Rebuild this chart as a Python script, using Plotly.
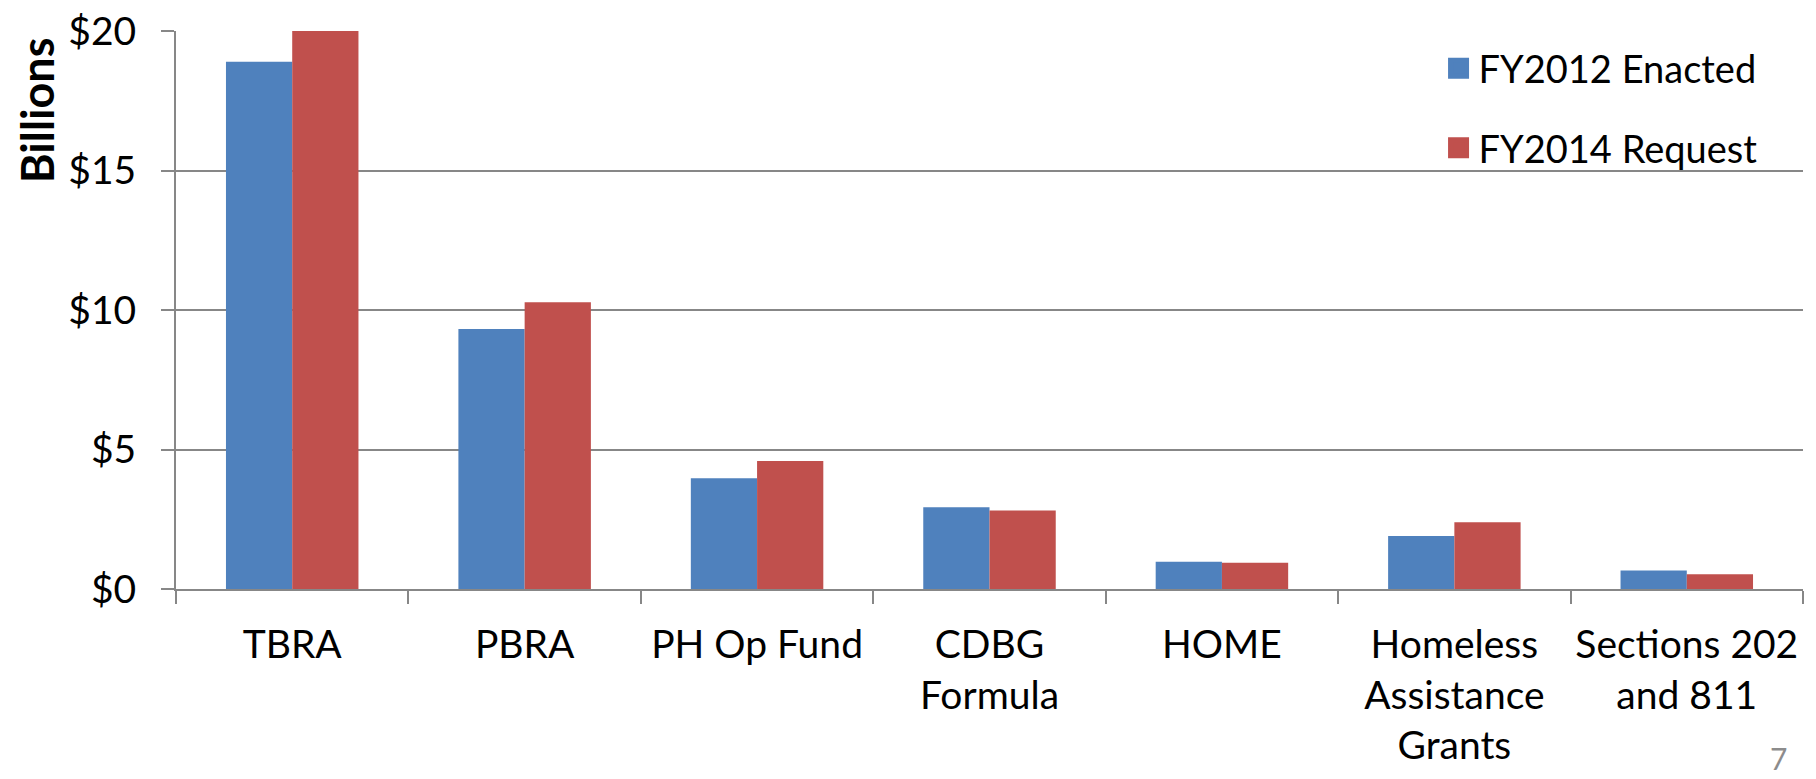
import plotly.graph_objects as go

categories = ["TBRA", "PBRA", "PH Op Fund", "CDBG<br>Formula", "HOME",
              "Homeless<br>Assistance<br>Grants", "Sections 202<br>and 811"]
fy2012_enacted = [18.9, 9.32, 3.97, 2.93, 0.98, 1.90, 0.66]
fy2014_request = [20.0, 10.28, 4.59, 2.81, 0.94, 2.39, 0.53]
series_names = ["FY2012 Enacted", "FY2014 Request"]
colors = ["#4F81BD", "#C0504D"]
y_ticks = [0, 5, 10, 15, 20]
y_tick_labels = ["$0", "$5", "$10", "$15", "$20"]

FONT = "Lato"
GRID = "#878787"

fig = go.Figure()
for name, vals, col in zip(series_names, [fy2012_enacted, fy2014_request], colors):
    fig.add_trace(go.Bar(x=categories, y=vals, name=name, marker_color=col,
                         marker_line_width=0, showlegend=False))
# legend entries
for name, col in zip(series_names, colors):
    fig.add_trace(go.Scatter(x=[None], y=[None], mode="markers", name=name,
                             marker=dict(symbol="square", size=16, color=col,
                                         line=dict(width=5, color=col)),
                             legendgroup=name))

fig.update_layout(
    width=1816, height=779,
    margin=dict(l=176, r=13, t=31, b=190, autoexpand=False),
    paper_bgcolor="white", plot_bgcolor="white",
    barmode="group", bargap=0.43, bargroupgap=0,
    font=dict(family=FONT, size=39, color="black"),
    legend=dict(x=0.776, y=0.989, xanchor="left", yanchor="top",
                font=dict(size=38, family=FONT), traceorder="grouped",
                tracegroupgap=27, bgcolor="rgba(0,0,0,0)"),
    xaxis=dict(type="category", range=[-0.5, 6.5], showline=True, linecolor=GRID,
               linewidth=2, ticks="outside", tickson="boundaries", ticklen=13,
               tickcolor=GRID, tickwidth=2, showgrid=False, tickangle=0,
               automargin=False,
               tickfont=dict(size=39, family=FONT), ticklabelstandoff=20),
    yaxis=dict(range=[0, 20], tickmode="array", tickvals=y_ticks,
               ticktext=y_tick_labels, showline=True, automargin=False,
               linecolor=GRID, linewidth=2, ticks="outside", ticklen=13,
               tickcolor=GRID, tickwidth=2, showgrid=True, gridcolor=GRID,
               gridwidth=2, zeroline=False, tickfont=dict(size=39, family=FONT),
               ticklabelstandoff=17),
    annotations=[
        dict(text="<b>Billions</b>", textangle=-90, xref="paper", yref="paper",
             x=-0.085, y=0.858, xanchor="center", yanchor="middle",
             showarrow=False, font=dict(size=45, family=FONT, color="black")),
        dict(text="7", xref="paper", yref="paper", x=0.985, y=-0.303,
             xanchor="center", yanchor="middle", showarrow=False,
             font=dict(size=30, family=FONT, color="#8C8C8C")),
    ],
)

fig.write_html("out.html", config={"displayModeBar": False},
               post_script="document.body.style.margin='0';")
